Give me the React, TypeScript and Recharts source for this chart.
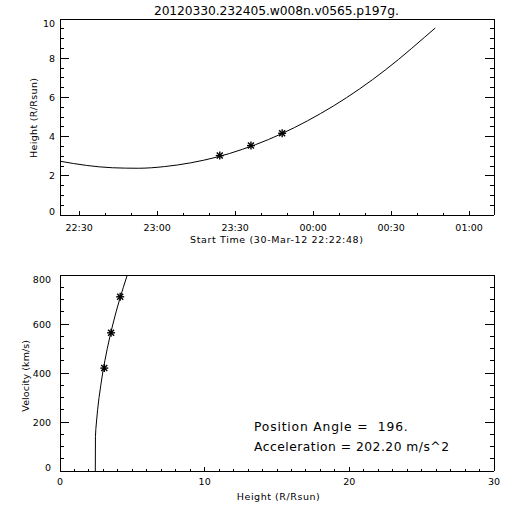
import React from 'react';
import { ComposedChart, Line, XAxis, YAxis } from 'recharts';

const FONT = '"DejaVu Sans", "Liberation Sans", sans-serif';

// ---------- top panel: height vs time (minutes after 22:00) ----------
const fitMinutes = [22.8, 32.8, 42.8, 52.8, 62.8, 72.8, 82.8, 92.8, 102.8, 112.8, 122.8, 132.8, 142.8, 152.8, 162.8, 167.0];
const fitHeight = [2.74, 2.53, 2.41, 2.385, 2.47, 2.66, 2.95, 3.35, 3.85, 4.46, 5.17, 5.98, 6.9, 7.93, 9.06, 9.54];
const obsMinutes = [84.08, 96.08, 108.08];
const obsHeight = [3.03, 3.54, 4.17];
const timeDomain: [number, number] = [22.6, 189.6];
const timeTickValues = [30, 60, 90, 120, 150, 180];
const timeTickLabels = ['22:30', '23:00', '23:30', '00:00', '00:30', '01:00'];
const timeMinorTicks = [30, 40, 50, 60, 70, 80, 90, 100, 110, 120, 130, 140, 150, 160, 170, 180];
const heightDomain: [number, number] = [0, 10];
const heightTickValues = [0, 2, 4, 6, 8, 10];
const heightTickLabels = ['0', '2', '4', '6', '8', '10'];
const heightMinorTicks = Array.from({ length: 21 }, (_, i) => i * 0.5);

// ---------- bottom panel: velocity vs height ----------
const fitRadius = [2.44, 2.45, 2.52, 2.6, 2.7, 2.82, 2.95, 3.1, 3.27, 3.455, 3.66, 3.88, 4.12, 4.38, 4.65];
const fitVelocity = [0, 140, 200, 250, 300, 350, 400, 450, 500, 550, 600, 650, 700, 750, 800];
const obsRadius = [3.06, 3.53, 4.16];
const obsVelocity = [420, 564, 711];
const radiusDomain: [number, number] = [0, 30];
const radiusTickValues = [0, 10, 20, 30];
const radiusTickLabels = ['0', '10', '20', '30'];
const radiusMinorTicks = Array.from({ length: 31 }, (_, i) => i);
const velocityDomain: [number, number] = [0, 800];
const velocityTickValues = [0, 200, 400, 600, 800];
const velocityTickLabels = ['0', '200', '400', '600', '800'];
const velocityMinorTicks = Array.from({ length: 17 }, (_, i) => i * 50);

const titleText = '20120330.232405.w008n.v0565.p197g.';
const timeAxisTitle = 'Start Time (30-Mar-12 22:22:48)';
const heightAxisTitle = 'Height (R/Rsun)';
const velocityAxisTitle = 'Velocity (km/s)';
const paText = 'Position Angle =  196.';
const accText = 'Acceleration = 202.20 m/s^2';

const topFit = fitMinutes.map((t, i) => ({ t, h: fitHeight[i] }));
const topObs = obsMinutes.map((t, i) => ({ t, h: obsHeight[i] }));
const botFit = fitRadius.map((r, i) => ({ r, v: fitVelocity[i] }));
const botObs = obsRadius.map((r, i) => ({ r, v: obsVelocity[i] }));

type Side = 'bottom' | 'top' | 'left' | 'right';
interface TickCfg {
  side: Side;
  majors: number[];
  labels?: string[];
  majorLen: number;
  minorLen: number;
  labelOffset?: number;
  domain?: [number, number];
}

function makeTick(cfg: TickCfg) {
  return (props: any) => {
    const { x, y, payload } = props;
    const v = payload.value;
    const mi = cfg.majors.findIndex((m) => Math.abs(m - v) < 1e-6);
    const isMajor = mi >= 0;
    const len = isMajor ? cfg.majorLen : cfg.minorLen;
    let x2 = x;
    let y2 = y;
    if (cfg.side === 'bottom') y2 = y - len;
    if (cfg.side === 'top') y2 = y + len;
    if (cfg.side === 'left') x2 = x + len;
    if (cfg.side === 'right') x2 = x - len;
    let label: React.ReactNode = null;
    if (isMajor && cfg.labels) {
      if (cfg.side === 'bottom') {
        label = (
          <text x={x} y={y + (cfg.labelOffset ?? 15)} textAnchor="middle" fontFamily={FONT} fontSize={9.5} fill="#000">
            {cfg.labels[mi]}
          </text>
        );
      } else if (cfg.side === 'left') {
        let dy = 3.5;
        if (cfg.domain && Math.abs(v - cfg.domain[1]) < 1e-6) dy = 7.5;
        if (cfg.domain && Math.abs(v - cfg.domain[0]) < 1e-6) dy = -0.5;
        label = (
          <text x={x - (cfg.labelOffset ?? 5)} y={y + dy} textAnchor="end" fontFamily={FONT} fontSize={9.5} fill="#000">
            {cfg.labels[mi]}
          </text>
        );
      }
    }
    return (
      <g>
        <line x1={x} y1={y} x2={x2} y2={y2} stroke="#000" strokeWidth={1} shapeRendering="crispEdges" />
        {label}
      </g>
    );
  };
}

const Star = (props: any) => {
  const { cx, cy } = props;
  if (cx == null || cy == null) return <g />;
  return (
    <g stroke="#000" strokeWidth={1.4}>
      <line x1={cx - 4} y1={cy} x2={cx + 4} y2={cy} />
      <line x1={cx} y1={cy - 4} x2={cx} y2={cy + 4} />
      <line x1={cx - 3} y1={cy - 3} x2={cx + 3} y2={cy + 3} />
      <line x1={cx - 3} y1={cy + 3} x2={cx + 3} y2={cy - 3} />
    </g>
  );
};

const axisLine = { stroke: '#000', strokeWidth: 1, shapeRendering: 'crispEdges' } as any;
const MARGIN = { top: 18, right: 17, left: 0, bottom: 0 };

function TopChart() {
  return (
    <ComposedChart width={512} height={256} margin={MARGIN}>
      <XAxis
        dataKey="t"
        type="number"
        domain={timeDomain}
        allowDataOverflow
        ticks={timeMinorTicks}
        interval={0}
        tickSize={0}
        tickMargin={0}
        tickLine={false}
        axisLine={axisLine}
        height={41}
        tick={makeTick({ side: 'bottom', majors: timeTickValues, labels: timeTickLabels, majorLen: 4, minorLen: 2, labelOffset: 15.7 })}
      />
      <XAxis
        xAxisId="top"
        orientation="top"
        type="number"
        domain={timeDomain}
        allowDataOverflow
        ticks={timeMinorTicks}
        interval={0}
        tickSize={0}
        tickMargin={0}
        tickLine={false}
        axisLine={axisLine}
        height={1}
        tick={makeTick({ side: 'top', majors: timeTickValues, majorLen: 4, minorLen: 2 })}
      />
      <YAxis
        type="number"
        domain={heightDomain}
        allowDataOverflow
        ticks={heightMinorTicks}
        interval={0}
        tickSize={0}
        tickMargin={0}
        tickLine={false}
        axisLine={axisLine}
        width={60}
        tick={makeTick({ side: 'left', majors: heightTickValues, labels: heightTickLabels, majorLen: 8.7, minorLen: 4.3, labelOffset: 5, domain: heightDomain })}
      />
      <YAxis
        yAxisId="right"
        orientation="right"
        type="number"
        domain={heightDomain}
        allowDataOverflow
        ticks={heightMinorTicks}
        interval={0}
        tickSize={0}
        tickMargin={0}
        tickLine={false}
        axisLine={axisLine}
        width={1}
        tick={makeTick({ side: 'right', majors: heightTickValues, majorLen: 8.7, minorLen: 4.3 })}
      />
      <Line data={topFit} dataKey="h" stroke="#000" strokeWidth={1} dot={false} isAnimationActive={false} type="monotoneX" />
      <Line
        data={topObs}
        dataKey="h"
        stroke="none"
        isAnimationActive={false}
        dot={(p: any) => <Star key={`s${p.index}`} cx={p.cx} cy={p.cy} />}
      />
    </ComposedChart>
  );
}

function BottomChart() {
  return (
    <ComposedChart width={512} height={256} margin={MARGIN}>
      <XAxis
        dataKey="r"
        type="number"
        domain={radiusDomain}
        allowDataOverflow
        ticks={radiusMinorTicks}
        interval={0}
        tickSize={0}
        tickMargin={0}
        tickLine={false}
        axisLine={axisLine}
        height={41}
        tick={makeTick({ side: 'bottom', majors: radiusTickValues, labels: radiusTickLabels, majorLen: 4, minorLen: 2, labelOffset: 14.2 })}
      />
      <XAxis
        xAxisId="top"
        orientation="top"
        type="number"
        domain={radiusDomain}
        allowDataOverflow
        ticks={radiusMinorTicks}
        interval={0}
        tickSize={0}
        tickMargin={0}
        tickLine={false}
        axisLine={axisLine}
        height={1}
        tick={makeTick({ side: 'top', majors: radiusTickValues, majorLen: 4, minorLen: 2 })}
      />
      <YAxis
        type="number"
        domain={velocityDomain}
        allowDataOverflow
        ticks={velocityMinorTicks}
        interval={0}
        tickSize={0}
        tickMargin={0}
        tickLine={false}
        axisLine={axisLine}
        width={60}
        tick={makeTick({ side: 'left', majors: velocityTickValues, labels: velocityTickLabels, majorLen: 8.7, minorLen: 4.3, labelOffset: 9, domain: velocityDomain })}
      />
      <YAxis
        yAxisId="right"
        orientation="right"
        type="number"
        domain={velocityDomain}
        allowDataOverflow
        ticks={velocityMinorTicks}
        interval={0}
        tickSize={0}
        tickMargin={0}
        tickLine={false}
        axisLine={axisLine}
        width={1}
        tick={makeTick({ side: 'right', majors: velocityTickValues, majorLen: 8.7, minorLen: 4.3 })}
      />
      <Line data={botFit} dataKey="v" stroke="#000" strokeWidth={1} dot={false} isAnimationActive={false} type="monotoneY" />
      <Line
        data={botObs}
        dataKey="v"
        stroke="none"
        isAnimationActive={false}
        dot={(p: any) => <Star key={`b${p.index}`} cx={p.cx} cy={p.cy} />}
      />
    </ComposedChart>
  );
}

export default function App() {
  const txt = { fontFamily: FONT, fill: '#000' } as const;
  return (
    <div style={{ position: 'absolute', left: 0, top: 0, width: 512, height: 512, background: '#fff' }}>
      <div style={{ position: 'absolute', left: 0, top: 0 }}>
        <TopChart />
      </div>
      <div style={{ position: 'absolute', left: 0, top: 256 }}>
        <BottomChart />
      </div>
      <svg width={512} height={512} style={{ position: 'absolute', left: 0, top: 0, pointerEvents: 'none' }}>
        <text x={276.4} y={15} textAnchor="middle" fontSize={12.3} textLength={245} {...txt}>{titleText}</text>
        <text x={276.5} y={243.3} textAnchor="middle" fontSize={9.5} textLength={173} {...txt}>{timeAxisTitle}</text>
        <text transform="translate(36.5,118) rotate(-90)" textAnchor="middle" fontSize={9.5} textLength={80} {...txt}>{heightAxisTitle}</text>
        <text x={278.3} y={500.3} textAnchor="middle" fontSize={9.5} textLength={83} {...txt}>{heightAxisTitle}</text>
        <text transform="translate(28.8,375.8) rotate(-90)" textAnchor="middle" fontSize={9.5} textLength={71.7} {...txt}>{velocityAxisTitle}</text>
        <text x={254} y={430.7} fontSize={12.3} textLength={153.7} style={{ whiteSpace: 'pre' }} {...txt}>{paText}</text>
        <text x={254} y={450.7} fontSize={12.3} textLength={195} {...txt}>{accText}</text>
      </svg>
    </div>
  );
}
